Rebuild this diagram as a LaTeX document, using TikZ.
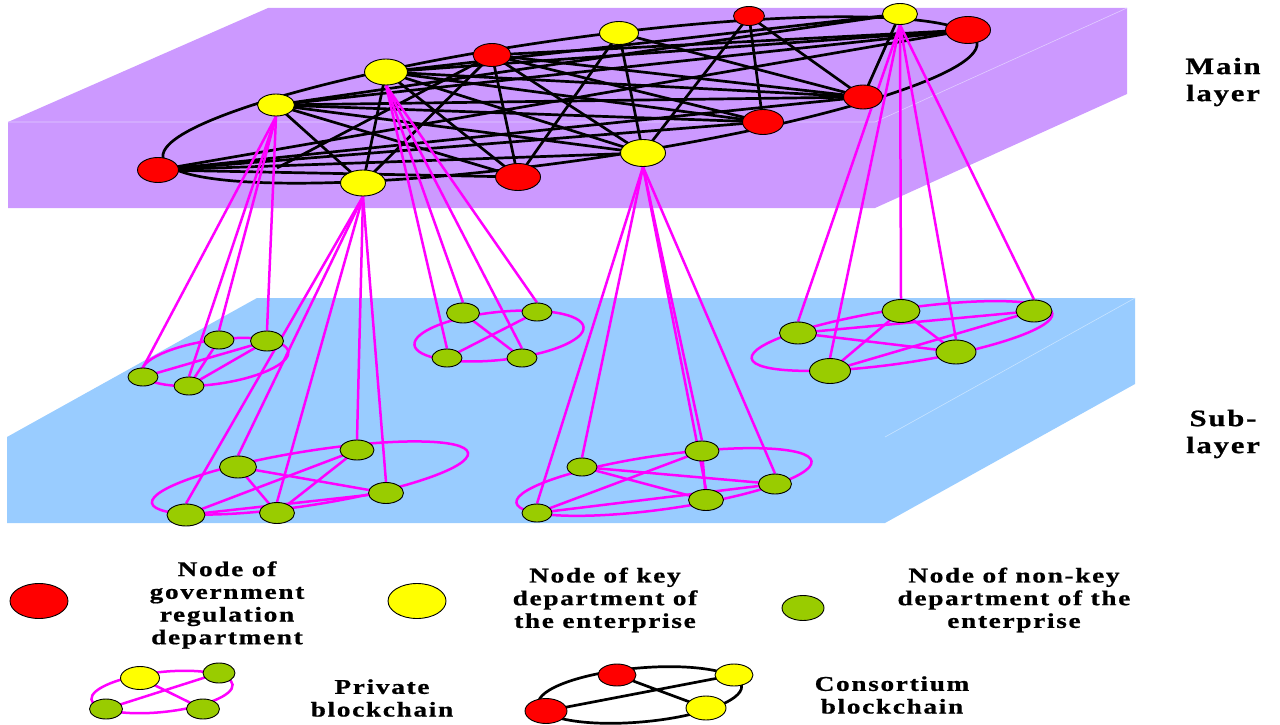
\documentclass[tikz,border=0pt]{standalone}
\usepackage{fontspec}
\setmainfont{Liberation Serif}
\newfontfamily\labelfont{Liberation Serif}[LetterSpace=8,FakeStretch=1.3,BoldFeatures={FakeBold=0.8}]
\usetikzlibrary{shapes.geometric}
\definecolor{mainplane}{HTML}{CC99FF}
\definecolor{mainedge}{HTML}{E2CCFF}
\definecolor{subplane}{HTML}{99CCFF}
\definecolor{subedge}{HTML}{C8E4FF}
\definecolor{govred}{HTML}{FF0000}
\definecolor{keyyellow}{HTML}{FFFF00}
\definecolor{nkgreen}{HTML}{99CC00}
\definecolor{privlink}{HTML}{FF00FF}
\pgfdeclarelayer{planes}
\pgfdeclarelayer{links}
\pgfsetlayers{planes,links,main}
\begin{document}
\begin{tikzpicture}[x=1pt,y=-1pt,
  peer/.style={ellipse, draw=black, line width=0.9pt, inner sep=0pt},
  gov/.style={peer, fill=govred},
  key/.style={peer, fill=keyyellow},
  nonkey/.style={peer, fill=nkgreen},
  sz/.style 2 args={minimum width=#1pt, minimum height=#2pt},
  conlink/.style={draw=black, line width=2.7pt},
  prlink/.style={draw=privlink, line width=2.5pt},
  lbl/.style={align=center, inner sep=0pt, font=\labelfont\bfseries\fontsize{21pt}{22.7pt}\selectfont},
  biglbl/.style={align=center, inner sep=0pt, font=\labelfont\bfseries\fontsize{23.5pt}{27pt}\selectfont}]
\useasboundingbox (0,0) rectangle (1280,725);

% ---------- the two layers as flat boxes ----------
\begin{pgfonlayer}{planes}
  \fill[mainplane] (268,8) -- (1127,8) -- (1127,94) -- (875,208) -- (8,208) -- (8,122) -- cycle;
  \draw[mainedge, line width=0.6pt] (8,122) -- (875,122) -- (1127,8);
  \fill[subplane] (257,298) -- (1135,298) -- (1135,384) -- (885,523) -- (7,523) -- (7,437) -- cycle;
  \draw[subedge, line width=0.6pt] (885,437) -- (1135,298);
\end{pgfonlayer}

% ---------- main layer: consortium chain ----------
\node[gov, sz={41}{25}] (R1) at (158,170) {};
\node[key, sz={37}{22}] (Y1) at (276,105) {};
\node[key, sz={43}{26}] (Y2) at (386,72) {};
\node[key, sz={45}{26}] (Y3) at (363,183) {};
\node[gov, sz={38}{23}] (R2) at (492,55) {};
\node[gov, sz={45}{27}] (R3) at (518,177) {};
\node[key, sz={39}{23}] (Y4) at (619,33) {};
\node[key, sz={45}{27}] (Y5) at (643,153) {};
\node[gov, sz={31}{19}] (R4) at (749,16) {};
\node[gov, sz={41}{25}] (R5) at (763,122) {};
\node[gov, sz={39}{24}] (R6) at (863,97) {};
\node[key, sz={35}{21}] (Y6) at (900,14) {};
\node[gov, sz={45}{27}] (R7) at (968,30) {};
\coordinate (ringc) at (570,100);
\coordinate (stub) at (277,168);

% ---------- sub-layer: private chains ----------
\node[nonkey, sz={30}{18}] (A1) at (143,377) {};
\node[nonkey, sz={30}{18}] (A2) at (189,386) {};
\node[nonkey, sz={30}{18}] (A3) at (219,340) {};
\node[nonkey, sz={33}{20}] (A4) at (267,341) {};
\coordinate (ringA) at (215,362);

\node[nonkey, sz={33}{20}] (B1) at (463,313) {};
\node[nonkey, sz={30}{18}] (B2) at (537,312) {};
\node[nonkey, sz={30}{18}] (B3) at (447,358) {};
\node[nonkey, sz={30}{18}] (B4) at (522,358) {};
\coordinate (ringB) at (499,336);

\node[nonkey, sz={37}{22}] (C1) at (238,467) {};
\node[nonkey, sz={34}{20}] (C2) at (357,450) {};
\node[nonkey, sz={35}{21}] (C3) at (386,493) {};
\node[nonkey, sz={35}{21}] (C4) at (277,513) {};
\node[nonkey, sz={38}{22}] (C5) at (186,515) {};
\coordinate (ringC) at (310,478);

\node[nonkey, sz={30}{18}] (D1) at (582,467) {};
\node[nonkey, sz={34}{20}] (D2) at (702,451) {};
\node[nonkey, sz={33}{20}] (D3) at (775,484) {};
\node[nonkey, sz={35}{21}] (D4) at (706,500) {};
\node[nonkey, sz={30}{18}] (D5) at (537,513) {};
\coordinate (ringD) at (664,482);

\node[nonkey, sz={37}{22}] (E1) at (798,333) {};
\node[nonkey, sz={41}{25}] (E2) at (830,371) {};
\node[nonkey, sz={38}{23}] (E3) at (901,311) {};
\node[nonkey, sz={36}{22}] (E4) at (1034,311) {};
\node[nonkey, sz={40}{24}] (E5) at (956,352) {};
\coordinate (ringE) at (902,336);

% ---------- legend symbols ----------
\node[gov, sz={58}{35}] (lgov) at (39,601) {};
\node[key, sz={58}{35}] (lkey) at (417,601) {};
\node[nonkey, sz={42}{25}] (lnk) at (803,608) {};

\node[key, sz={39}{23}] (pY) at (140,678) {};
\node[nonkey, sz={32}{20}] (pG1) at (219,673) {};
\node[nonkey, sz={33}{20}] (pG2) at (106,709) {};
\node[nonkey, sz={33}{20}] (pG3) at (203,709) {};
\coordinate (ringP) at (162,692);

\node[gov, sz={38}{22}] (cR1) at (617,675) {};
\node[key, sz={38}{22}] (cY1) at (734,675) {};
\node[gov, sz={42}{25}] (cR2) at (546,711) {};
\node[key, sz={40}{24}] (cY2) at (706,708) {};
\coordinate (ringQ) at (640,695);

% ---------- links, kept under the nodes ----------
\begin{pgfonlayer}{links}
  \draw[conlink, rotate around={8:(ringc)}] (ringc) ellipse[x radius=411, y radius=61];
  \foreach \a/\b in {R1/R3, R1/Y5, R1/R5, R1/R6, R1/R7,
                     Y1/Y3, Y1/R3, Y1/Y5, Y1/R5, Y1/R6, Y1/R7, Y1/Y6,
                     Y2/Y3, Y2/R3, Y2/Y5, Y2/R5, Y2/R6, Y2/R7, Y2/Y6,
                     R2/Y3, R2/R3, R2/Y5, R2/R5, R2/R6, R2/R7, R2/stub,
                     Y4/R3, Y4/Y5, Y4/R6,
                     R4/Y5, R4/R5, R4/R6,
                     Y6/R6}
    \draw[conlink] (\a.center) -- (\b.center);

  % links from key departments down to their private chains
  \foreach \t in {A1,A2,A3,A4} \draw[prlink] (Y1.south) -- (\t.north);
  \foreach \t in {B1,B2,B3,B4} \draw[prlink] (Y2.south) -- (\t.north);
  \foreach \t in {C1,C2,C3,C4,C5} \draw[prlink] (Y3.south) -- (\t.north);
  \foreach \t in {D1,D2,D3,D4,D5} \draw[prlink] (Y5.south) -- (\t.north);
  \foreach \t in {E1,E2,E3,E4,E5} \draw[prlink] (Y6.south) -- (\t.north);

  % private chains
  \draw[prlink, rotate around={8:(ringA)}] (ringA) ellipse[x radius=74, y radius=22];
  \draw[prlink, rotate around={6:(ringB)}] (ringB) ellipse[x radius=85, y radius=24];
  \draw[prlink, rotate around={9:(ringC)}] (ringC) ellipse[x radius=160, y radius=27];
  \draw[prlink, rotate around={8:(ringD)}] (ringD) ellipse[x radius=149, y radius=27];
  \draw[prlink, rotate around={8.5:(ringE)}] (ringE) ellipse[x radius=152, y radius=27];
  \foreach \a/\b in {A1/A4, A2/A3, A2/A4,
                     B1/B4, B3/B2,
                     C1/C3, C1/C4, C5/C2, C5/C3, C4/C2,
                     D1/D3, D1/D4, D5/D2, D5/D3, D4/D2,
                     E1/E5, E1/E4, E2/E3, E2/E4, E3/E5}
    \draw[prlink] (\a.center) -- (\b.center);

  % legend chains
  \draw[prlink, rotate around={6:(ringP)}] (ringP) ellipse[x radius=71, y radius=20];
  \draw[prlink] (pY.center) -- (pG3.center) (pG2.center) -- (pG1.center);
  \draw[conlink, rotate around={5:(ringQ)}] (ringQ) ellipse[x radius=102, y radius=27];
  \draw[conlink] (cR2.center) -- (cY1.center) (cR1.center) -- (cY2.center);
\end{pgfonlayer}

% ---------- texts ----------
\node[biglbl] (tmain) at (1223,82) {Main\\layer};
\node[biglbl] (tsub) at (1223,434) {Sub-\\layer};
\node[lbl] (tgov) at (227,605) {Node of\\government\\regulation\\department};
\node[lbl] (tkey) at (605,600) {Node of key\\department of\\the enterprise};
\node[lbl] (tnk) at (1014,600) {Node of non-key\\department of the\\enterprise};
\node[lbl] (tpriv) at (382,698) {Private\\blockchain};
\node[lbl] (tcons) at (892,695) {Consortium\\blockchain};
\end{tikzpicture}
\end{document}
